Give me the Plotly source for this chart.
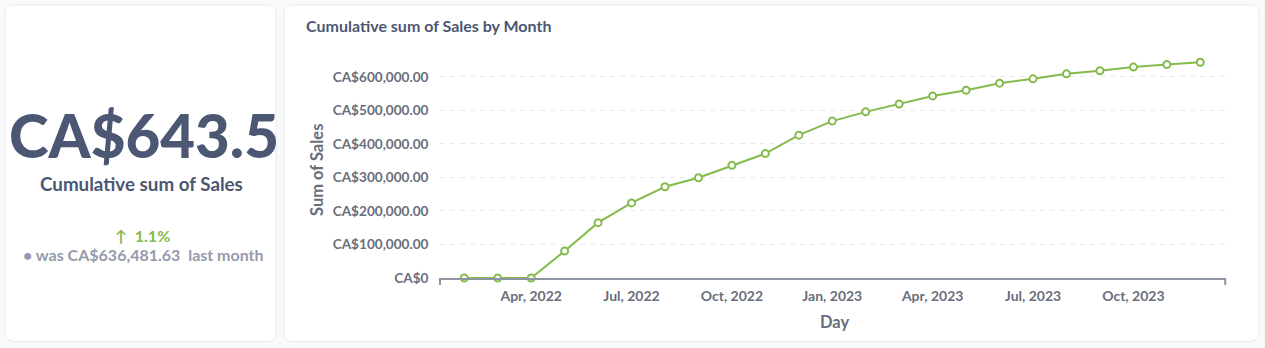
import plotly.graph_objects as go

W, H = 1265, 348
HR = 340.0  # effective rendered height of the paper in the captured picture

# ---------------- data ----------------
months = [
    "Feb, 2022", "Mar, 2022", "Apr, 2022", "May, 2022", "Jun, 2022", "Jul, 2022",
    "Aug, 2022", "Sep, 2022", "Oct, 2022", "Nov, 2022", "Dec, 2022", "Jan, 2023",
    "Feb, 2023", "Mar, 2023", "Apr, 2023", "May, 2023", "Jun, 2023", "Jul, 2023",
    "Aug, 2023", "Sep, 2023", "Oct, 2023", "Nov, 2023", "Dec, 2023",
]
cumulative_sales = [
    0, 0, 0, 80600, 165000, 224000, 272000, 299000, 336000, 371000, 426000, 468000,
    495500, 519000, 543000, 560000, 581000, 594000, 609000, 618000, 629000,
    636481.63, 643500,
]
x_tick_labels = ["Apr, 2022", "Jul, 2022", "Oct, 2022", "Jan, 2023",
                 "Apr, 2023", "Jul, 2023", "Oct, 2023"]
y_tick_values = [0, 100000, 200000, 300000, 400000, 500000, 600000]
y_tick_labels = ["CA$0", "CA$100,000.00", "CA$200,000.00", "CA$300,000.00",
                 "CA$400,000.00", "CA$500,000.00", "CA$600,000.00"]

current_value = cumulative_sales[-1]
previous_value = cumulative_sales[-2]
change_pct = (current_value / previous_value - 1) * 100

# ---------------- styling ----------------
FONT = "Lato"
DARK = "#4c5773"
MEDIUM = "#696e7b"
LIGHT = "#949aab"
GREEN = "#84bb4c"
AXIS = "#8f94a5"
GRID = "#e9ebef"
PAGE = "#f8f9fb"
CARD_BORDER = "#e6e9ee"


def X(p):
    return p / W


def Y(p):
    return 1 - p / HR


def rrect(x0, y0, x1, y1, r):
    return (
        f"M {X(x0 + r)},{Y(y0)} L {X(x1 - r)},{Y(y0)} "
        f"Q {X(x1)},{Y(y0)} {X(x1)},{Y(y0 + r)} L {X(x1)},{Y(y1 - r)} "
        f"Q {X(x1)},{Y(y1)} {X(x1 - r)},{Y(y1)} L {X(x0 + r)},{Y(y1)} "
        f"Q {X(x0)},{Y(y1)} {X(x0)},{Y(y1 - r)} L {X(x0)},{Y(y0 + r)} "
        f"Q {X(x0)},{Y(y0)} {X(x0 + r)},{Y(y0)} Z"
    )


PLOT_L, PLOT_R, PLOT_T, PLOT_B = 439.5, 1225.7, 50.0, 278.0

fig = go.Figure()
fig.add_trace(go.Scatter(
    x=months, y=cumulative_sales, mode="lines+markers",
    line=dict(color=GREEN, width=2),
    marker=dict(size=7, color="white", line=dict(color=GREEN, width=2)),
    cliponaxis=False, hoverinfo="skip", showlegend=False,
))

shapes = [
    dict(type="path", xref="paper", yref="paper", layer="below",
         path=rrect(5, 5, 276, 341.5, 9),
         fillcolor="white", line=dict(color=CARD_BORDER, width=1)),
    dict(type="path", xref="paper", yref="paper", layer="below",
         path=rrect(284, 5, 1259, 341.5, 9),
         fillcolor="white", line=dict(color=CARD_BORDER, width=1)),
    # end ticks of the x axis
    dict(type="line", xref="paper", yref="paper", layer="above",
         x0=X(PLOT_L + 0.5), x1=X(PLOT_L + 0.5), y0=Y(PLOT_B), y1=Y(PLOT_B + 7),
         line=dict(color=AXIS, width=2)),
    dict(type="line", xref="paper", yref="paper", layer="above",
         x0=X(PLOT_R - 0.5), x1=X(PLOT_R - 0.5), y0=Y(PLOT_B), y1=Y(PLOT_B + 7),
         line=dict(color=AXIS, width=2)),
]

annotations = [
    dict(text="Cumulative sum of Sales by Month", x=X(304), y=Y(26),
         xanchor="left", yanchor="middle",
         font=dict(family=FONT, size=16, color=DARK, weight=700)),
    dict(text="Sum of Sales", x=X(317), y=Y(170), textangle=-90,
         xanchor="center", yanchor="middle",
         font=dict(family=FONT, size=16.5, color=MEDIUM, weight=700)),
    dict(text="Day", x=X(834), y=Y(322), xanchor="center", yanchor="middle",
         font=dict(family=FONT, size=16.5, color=MEDIUM, weight=700)),
    dict(text=f"CA${current_value / 1000:.1f}", x=X(143.5), y=Y(135),
         xanchor="center", yanchor="middle",
         font=dict(family=FONT, size=60, color=DARK, weight=900)),
    dict(text="Cumulative sum of Sales", x=X(141.5), y=Y(183),
         xanchor="center", yanchor="middle",
         font=dict(family=FONT, size=18.8, color=DARK, weight=700)),
    dict(text=f"↑  {change_pct:.1f}%", x=X(142), y=Y(235),
         xanchor="center", yanchor="middle",
         font=dict(family=FONT, size=16, color=GREEN, weight=700)),
    dict(text=f"• was CA${previous_value:,.2f}  last month", x=X(143.5), y=Y(254),
         xanchor="center", yanchor="middle",
         font=dict(family=FONT, size=16, color=LIGHT, weight=700)),
]
for a in annotations:
    a.update(xref="paper", yref="paper", showarrow=False)

fig.update_layout(
    width=W, height=H, autosize=False,
    margin=dict(l=0, r=0, t=0, b=0),
    paper_bgcolor=PAGE, plot_bgcolor="rgba(0,0,0,0)",
    showlegend=False,
    shapes=shapes, annotations=annotations,
    xaxis=dict(
        type="category", domain=[X(PLOT_L), X(PLOT_R)],
        range=[-0.74, 22.76], tickvals=x_tick_labels,
        showgrid=False, zeroline=False, showline=True,
        linecolor=AXIS, linewidth=2, ticks="",
        tickfont=dict(family=FONT, size=14, color=MEDIUM, weight=700),
        ticklabelstandoff=4, fixedrange=True,
    ),
    yaxis=dict(
        domain=[Y(PLOT_B), Y(PLOT_T)], range=[0, 680000],
        tickvals=y_tick_values, ticktext=y_tick_labels,
        showgrid=True, gridcolor=GRID, gridwidth=1, griddash="5px,5px",
        zeroline=False, showline=False, ticks="",
        tickfont=dict(family=FONT, size=13.6, color=MEDIUM, weight=700),
        ticklabelstandoff=10, fixedrange=True,
    ),
)

fig.write_html("out.html")
